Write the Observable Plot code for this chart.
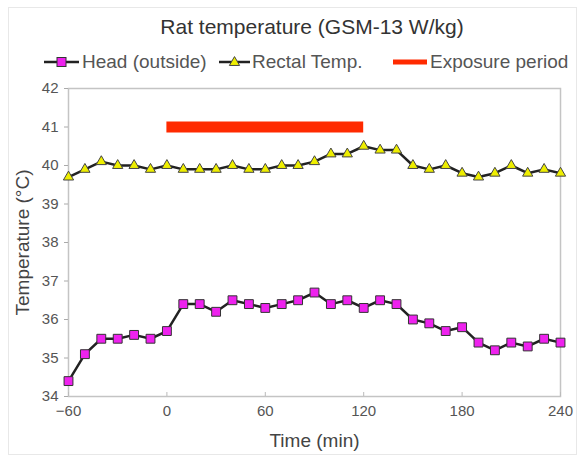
<!DOCTYPE html>
<html><head><meta charset="utf-8">
<script src="https://cdn.jsdelivr.net/npm/d3@7"></script>
<script src="https://cdn.jsdelivr.net/npm/@observablehq/plot@0.6"></script>
<style>
body{margin:0;background:#fff;font-family:"Liberation Sans",Arial,sans-serif;}
#wrap{position:relative;width:577px;height:459px;overflow:hidden;background:#fff;}
#border{position:absolute;left:8px;top:7px;width:567px;height:446px;border:1px solid #e8e8e8;pointer-events:none;}
#title{height:46px;box-sizing:border-box;padding-top:17px;padding-left:47px;font-size:21px;line-height:20px;text-align:center;color:#333;white-space:nowrap;}
#legend{position:relative;height:32px;font-size:19px;color:#555;}
#legend .it{position:absolute;top:0;height:32px;line-height:32px;white-space:nowrap;}
#legend svg{position:absolute;top:9px;}
</style>
</head><body>
<div id="wrap">
<div id="border"></div>
<div id="title">Rat temperature (GSM-13 W/kg)</div>
<div id="legend"></div>
<div id="chart"></div>
</div>
<script>
const times = [-60,-50,-40,-30,-20,-10,0,10,20,30,40,50,60,70,80,90,100,110,120,130,140,150,160,170,180,190,200,210,220,230,240];
const headValues = [34.4,35.1,35.5,35.5,35.6,35.5,35.7,36.4,36.4,36.2,36.5,36.4,36.3,36.4,36.5,36.7,36.4,36.5,36.3,36.5,36.4,36.0,35.9,35.7,35.8,35.4,35.2,35.4,35.3,35.5,35.4];
const rectalValues = [39.7,39.9,40.1,40.0,40.0,39.9,40.0,39.9,39.9,39.9,40.0,39.9,39.9,40.0,40.0,40.1,40.3,40.3,40.5,40.4,40.4,40.0,39.9,40.0,39.8,39.7,39.8,40.0,39.8,39.9,39.8];
const exposureStart = [0];
const exposureEnd = [120];
const exposureLevel = [41];
const xTicks = [-60,0,60,120,180,240];
const yTicks = [34,35,36,37,38,39,40,41,42];
const seriesNames = ["Head (outside)","Rectal Temp.","Exposure period"];

const head = times.map((t,i)=>({t, v: headValues[i]}));
const rectal = times.map((t,i)=>({t, v: rectalValues[i]}));
const exposure = exposureStart.map((s,i)=>({start:s, end:exposureEnd[i], level:exposureLevel[i]}));

// Legend
const legend = document.getElementById("legend");
const legendItems = [
  {sym:"square", left:44, w:35, textLeft:82},
  {sym:"triangle", left:219, w:31, textLeft:252},
  {sym:"bar", left:393, w:34, textLeft:430}
];
legendItems.forEach((it,i)=>{
  const s = d3.create("svg").attr("width",it.w).attr("height",14).style("left",it.left+"px");
  if (it.sym === "bar") {
    s.append("line").attr("x1",0).attr("x2",it.w).attr("y1",7).attr("y2",7).attr("stroke","#ff2a00").attr("stroke-width",5);
  } else {
    s.append("line").attr("x1",0).attr("x2",it.w).attr("y1",7).attr("y2",7).attr("stroke","#222").attr("stroke-width",2.5);
    if (it.sym === "square") {
      s.append("rect").attr("x",it.w/2-4.5).attr("y",2.5).attr("width",9).attr("height",9).attr("fill","#ee22ee").attr("stroke","#333");
    } else {
      s.append("path").attr("d",d3.symbol(d3.symbolTriangle, Math.PI*3.8*3.8)()).attr("transform",`translate(${it.w/2},7.5)`).attr("fill","#eeee00").attr("stroke","#444");
    }
  }
  legend.appendChild(s.node());
  const span = document.createElement("span");
  span.className = "it"; span.style.left = it.textLeft+"px"; span.textContent = seriesNames[i];
  legend.appendChild(span);
});

const W = 577, H = 381, mL = 68, mR = 17, mT = 10, mB = 63;
const chart = Plot.plot({
  width: W, height: H,
  marginLeft: mL, marginRight: mR, marginTop: mT, marginBottom: mB,
  style: {fontFamily: "Liberation Sans, Arial, sans-serif", fontSize: "15px", color: "#555", background: "white", overflow: "visible"},
  x: {domain: [-60, 240]},
  y: {domain: [34, 42]},
  marks: [
    Plot.frame({stroke: "#c4c4c4", strokeWidth: 1.5}),
    Plot.axisY(yTicks, {tickSize: 4, tickPadding: 6, label: null, fontSize: 15, stroke: "#aaa", fill: "#555"}),
    Plot.axisX(xTicks, {tickSize: 0, tickPadding: 9, label: null, fontSize: 15, fill: "#555"}),
    Plot.ruleX(xTicks, {x: d => d, insetTop: H - mT - mB - 4, stroke: "#bbb"}),
    Plot.text(["Temperature (°C)"], {frameAnchor: "left", dx: -46, rotate: -90, textAnchor: "middle", lineAnchor: "middle", fontSize: 19, fill: "#444"}),
    Plot.text(["Time (min)"], {frameAnchor: "bottom", dy: 44, textAnchor: "middle", lineAnchor: "middle", fontSize: 19, fill: "#444"}),
    Plot.ruleY(exposure, {x1: "start", x2: "end", y: "level", stroke: "#ff2a00", strokeWidth: 11}),
    Plot.line(head, {x: "t", y: "v", stroke: "#222", strokeWidth: 2.5}),
    Plot.dot(head, {x: "t", y: "v", symbol: "square", r: 5, fill: "#ee22ee", stroke: "#333", strokeWidth: 1}),
    Plot.line(rectal, {x: "t", y: "v", stroke: "#222", strokeWidth: 2.5}),
    Plot.dot(rectal, {x: "t", y: "v", symbol: "triangle", r: 3.8, fill: "#eeee00", stroke: "#444", strokeWidth: 1})
  ]
});
document.getElementById("chart").appendChild(chart);
</script>
</body></html>
